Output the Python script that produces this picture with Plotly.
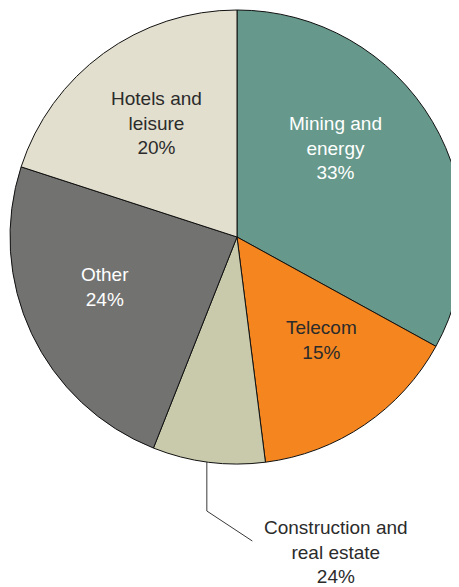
import plotly.graph_objects as go

# Sector shares (slice sizes, labels as printed)
sectors = ['Mining and energy', 'Telecom', 'Construction and real estate', 'Other', 'Hotels and leisure']
shares = [33, 15, 8, 24, 20]
label_text = ['Mining and<br>energy<br>33%', 'Telecom<br>15%',
              'Construction and<br>real estate<br>24%', 'Other<br>24%',
              'Hotels and<br>leisure<br>20%']

colors = {
    'mining': '#66998b',
    'telecom': '#f5861f',
    'construction': '#c9c9ab',
    'other': '#727371',
    'hotels': '#e3dfcf',
    'dark_text': '#2b2b2b',
}
slice_colors = [colors['mining'], colors['telecom'], colors['construction'],
                colors['other'], colors['hotels']]
text_colors = ['white', colors['dark_text'], colors['dark_text'], 'white', colors['dark_text']]

W, H = 459, 587
OFF = 8  # page body margin
FONT = 'Liberation Sans, Arial, sans-serif'


def px_x(x):
    # page pixel -> paper fraction
    return (x - OFF) / W


def px_y(y):
    return 1 - (y - OFF) / H


fig = go.Figure(go.Pie(
    labels=sectors,
    values=shares,
    sort=False,
    direction='clockwise',
    rotation=0,
    textinfo='none',
    hoverinfo='label+percent',
    marker=dict(colors=slice_colors, line=dict(color='#111111', width=1)),
    domain=dict(x=[0, 1], y=[131 / H, 585 / H]),
    showlegend=False,
))

# label positions in page pixels (centre of text block)
label_pos = [(337, 148), (323, 340), (338, 552), (104, 287), (156, 123)]
for txt, col, (lx, ly) in zip(label_text, text_colors, label_pos):
    fig.add_annotation(
        x=px_x(lx), y=px_y(ly), xref='paper', yref='paper',
        text=txt, showarrow=False, align='center',
        xanchor='center', yanchor='middle',
        font=dict(family=FONT, size=19, color=col),
    )

# leader line for the small construction slice
fig.add_shape(type='path', xref='paper', yref='paper',
              path=f'M {px_x(207)} {px_y(462)} L {px_x(207)} {px_y(511)} L {px_x(253)} {px_y(541)}',
              line=dict(color='#3a3a3a', width=1))

fig.update_layout(
    width=W, height=H,
    margin=dict(l=2, r=3, t=0, b=0),
    paper_bgcolor='white',
    plot_bgcolor='white',
)

fig.write_html('out.html')
